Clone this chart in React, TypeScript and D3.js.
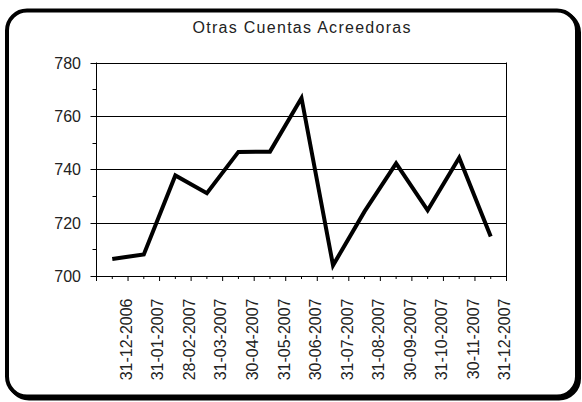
import React from "react";
import * as d3 from "d3";

const title = "Otras Cuentas Acreedoras";
const categories = [
  "31-12-2006", "31-01-2007", "28-02-2007", "31-03-2007", "30-04-2007",
  "31-05-2007", "30-06-2007", "31-07-2007", "31-08-2007", "30-09-2007",
  "31-10-2007", "30-11-2007", "31-12-2007",
];
const values = [706.4, 708.1, 737.7, 731.0, 746.5, 746.6, 766.7, 704.0, 724.2, 742.2, 724.6, 744.3, 714.8];
const yTicks = [700, 720, 740, 760, 780];
const yMinorTicks = [710, 730, 750, 770];

const W = 582;
const H = 402;
const left = 96.5;
const right = 506.5;
const top = 62.5;
const bottom = 276;
const font = "'Liberation Sans', Arial, sans-serif";

export default function App() {
  const x = d3.scaleBand<string>().domain(categories).range([left, right]).padding(0);
  const y = d3.scaleLinear().domain([700, 780]).range([bottom, top]);
  const line = d3
    .line<number>()
    .x((_, i) => (x(categories[i]) as number) + x.bandwidth() / 2)
    .y((d) => y(d));

  const boundaries = categories.map((c) => x(c) as number).concat([right]);

  return (
    <svg
      width={W}
      height={H}
      style={{ position: "absolute", left: 0, top: 0, display: "block" }}
    >
      <rect x={0} y={0} width={W} height={H} fill="#fff" />
      {/* frame shadow + frame */}
      <rect x={9} y={12.5} width={570} height={386} rx={20} ry={20} fill="none" stroke="#000" strokeWidth={4} />
      <rect x={7} y={10.5} width={570} height={386} rx={20} ry={20} fill="#fff" stroke="#000" strokeWidth={4} />

      <text
        x={(left + right) / 2}
        y={33}
        textAnchor="middle"
        fontFamily={font}
        fontSize={16}
        textLength={218}
        lengthAdjust="spacing"
        fill="#222"
      >
        {title}
      </text>

      {/* gridlines */}
      {yTicks.slice(1).map((t) => (
        <line key={"g" + t} x1={left} x2={right} y1={Math.round(y(t)) + 0.5} y2={Math.round(y(t)) + 0.5} stroke="#000" strokeWidth={1} />
      ))}
      {/* plot border right */}
      <line x1={right} x2={right} y1={top} y2={bottom} stroke="#000" strokeWidth={1} />

      {/* y axis */}
      <line x1={left} x2={left} y1={top} y2={bottom + 0.5} stroke="#000" strokeWidth={1} />
      {yTicks.map((t) => (
        <g key={"y" + t}>
          <line x1={left - 6} x2={left} y1={Math.round(y(t)) + 0.5} y2={Math.round(y(t)) + 0.5} stroke="#000" strokeWidth={1} />
          <text x={81} y={y(t) + 6} textAnchor="end" fontFamily={font} fontSize={16} fill="#222">
            {t}
          </text>
        </g>
      ))}
      {yMinorTicks.map((t) => (
        <line key={"ym" + t} x1={left - 4} x2={left} y1={Math.round(y(t)) + 0.5} y2={Math.round(y(t)) + 0.5} stroke="#000" strokeWidth={1} />
      ))}

      {/* x axis */}
      <line x1={left} x2={right} y1={bottom + 0.5} y2={bottom + 0.5} stroke="#000" strokeWidth={1} />
      {boundaries.map((b, i) => (
        <line key={"xb" + i} x1={b} x2={b} y1={bottom} y2={bottom + 5} stroke="#000" strokeWidth={1} />
      ))}
      {categories.map((c) => {
        const cx = (x(c) as number) + x.bandwidth() / 2;
        return (
          <g key={"xl" + c}>
            <line x1={cx} x2={cx} y1={bottom} y2={bottom + 3} stroke="#000" strokeWidth={1} />
            <text
              transform={`translate(${cx + 14},${298.5}) rotate(-90)`}
              textAnchor="end"
              dy="0.35em"
              fontFamily={font}
              fontSize={16}
              fill="#222"
            >
              {c}
            </text>
          </g>
        );
      })}

      <path d={line(values) || ""} fill="none" stroke="#000" strokeWidth={4} strokeLinejoin="miter" />
    </svg>
  );
}
